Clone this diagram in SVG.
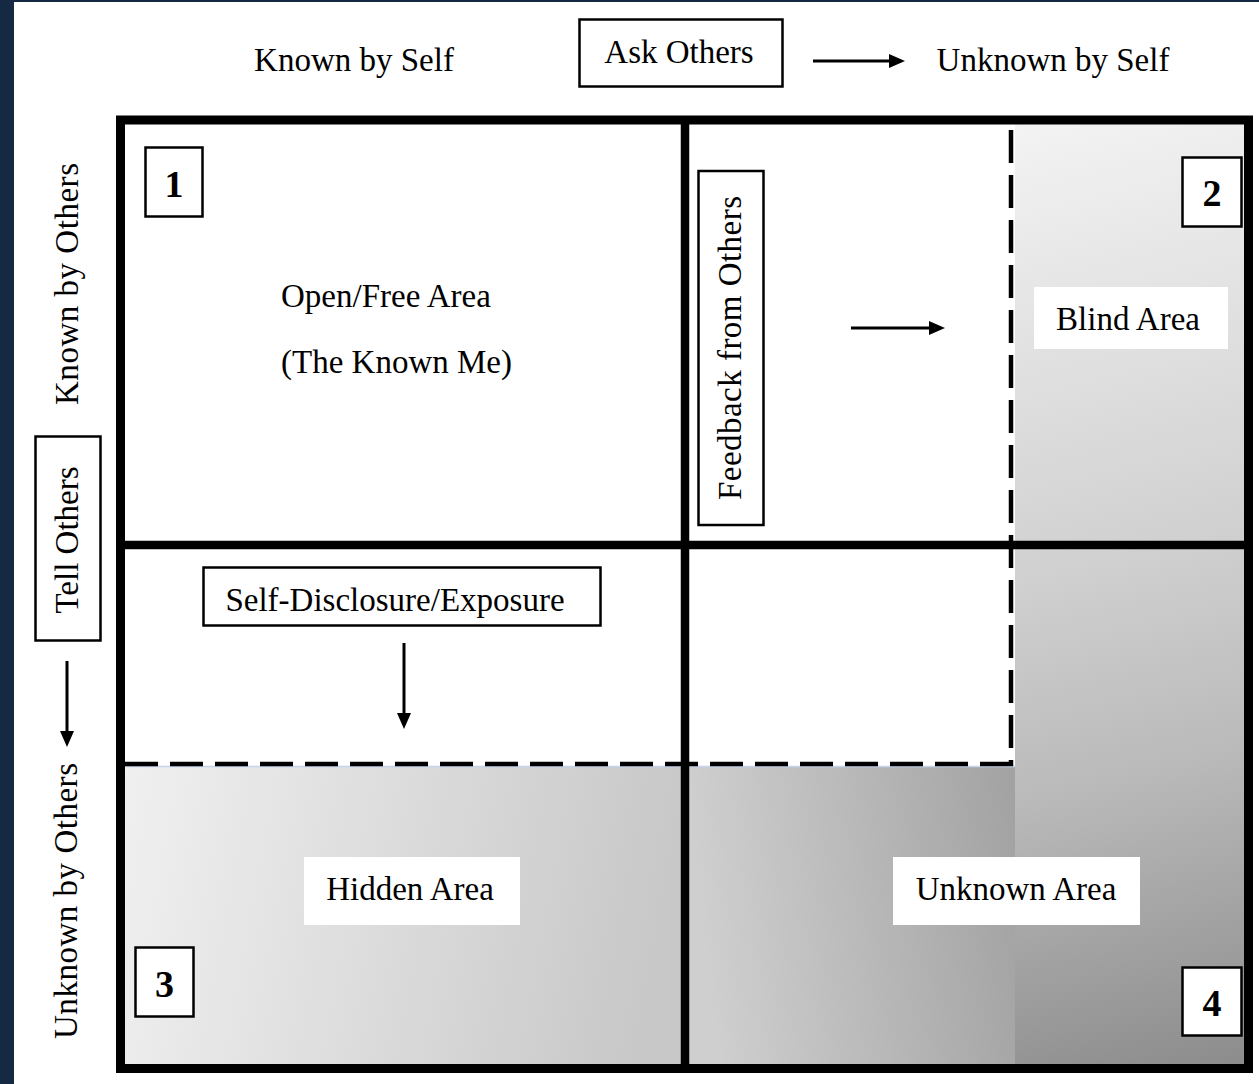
<svg xmlns="http://www.w3.org/2000/svg" width="1259" height="1084" viewBox="0 0 1259 1084">
<defs>
<style>
.t{font-family:"Liberation Serif","Times New Roman",serif;font-size:33px;fill:#000}
.m{text-anchor:middle}
.n{font-family:"Liberation Serif","Times New Roman",serif;font-size:38px;font-weight:bold;text-anchor:middle;fill:#000}
.box{fill:#fff;stroke:#000;stroke-width:2.5}
.lbl{fill:#fff;stroke:none}
.frame{fill:none;stroke:#000;stroke-width:9}
.grid{stroke:#000;stroke-width:8.5;fill:none}
.dash{stroke:#000;stroke-width:4.5;stroke-dasharray:33 12;fill:none}
.arr{stroke:#000;stroke-width:3;fill:none;marker-end:url(#ah)}
</style>
<marker id="ah" markerWidth="16" markerHeight="14" refX="12" refY="7" orient="auto" markerUnits="userSpaceOnUse">
<path d="M0,0 L16,7 L0,14 z" fill="#000"/>
</marker>
<linearGradient id="gRight" gradientUnits="userSpaceOnUse" x1="1015" y1="124" x2="1245" y2="1065">
<stop offset="0" stop-color="#f3f3f3"/>
<stop offset="0.45" stop-color="#d1d1d1"/>
<stop offset="0.68" stop-color="#bababa"/>
<stop offset="1" stop-color="#8c8c8c"/>
</linearGradient>
<linearGradient id="gHidden" x1="0" y1="0" x2="1" y2="0.1">
<stop offset="0" stop-color="#f0f0f0"/>
<stop offset="1" stop-color="#c8c8c8"/>
</linearGradient>
<linearGradient id="gUnknown" x1="0" y1="0.1" x2="1" y2="0">
<stop offset="0" stop-color="#cfcfcf"/>
<stop offset="1" stop-color="#a2a2a2"/>
</linearGradient>
</defs>
<rect x="0" y="0" width="1259" height="1084" fill="#fff"/>
<rect x="0" y="0" width="14" height="1084" fill="#152a42"/>
<rect x="0" y="0" width="1259" height="2" fill="#152a42"/>

<g id="areas">
<rect x="1015" y="124" width="230" height="941" fill="url(#gRight)"/>
<rect x="124" y="766" width="558" height="299" fill="url(#gHidden)"/>
<rect x="688" y="766" width="327" height="299" fill="url(#gUnknown)"/>
<line x1="124" y1="766.5" x2="1015" y2="766.5" stroke="#c6d3ee" stroke-width="1.5"/>
</g>

<g id="grid">
<line class="grid" x1="685" y1="120" x2="685" y2="1068"/>
<line class="grid" x1="120" y1="545" x2="1248" y2="545"/>
<line class="dash" x1="125" y1="764" x2="1013" y2="764"/>
<line class="dash" x1="1011" y1="130" x2="1011" y2="766"/>
<rect class="frame" x="120.5" y="120" width="1128" height="948.5"/>
</g>

<g id="known-by-self"><text class="t m" x="354" y="71">Known by Self</text></g>
<g id="ask-others">
<rect class="box" x="579.5" y="19.5" width="203" height="67"/>
<text class="t m" x="679" y="63">Ask Others</text>
</g>
<g id="unknown-by-self"><text class="t m" x="1053" y="71">Unknown by Self</text></g>

<g id="known-by-others"><text class="t m" transform="translate(78,284) rotate(-90)" textLength="242">Known by Others</text></g>
<g id="tell-others">
<rect class="box" x="35.5" y="436.5" width="65" height="204"/>
<text class="t m" transform="translate(78,540) rotate(-90)">Tell Others</text>
</g>
<g id="unknown-by-others"><text class="t m" transform="translate(77,901) rotate(-90)" textLength="276">Unknown by Others</text></g>

<g id="open-area">
<rect class="box" x="145.5" y="147.5" width="57" height="69"/>
<text class="n" x="174" y="197">1</text>
<text class="t" x="281" y="307">Open/Free Area</text>
<text class="t" x="281" y="373">(The Known Me)</text>
</g>

<g id="feedback">
<rect class="box" x="698.5" y="171" width="65" height="354"/>
<text class="t m" transform="translate(741,348) rotate(-90)" textLength="304">Feedback from Others</text>
</g>

<g id="blind-area">
<rect class="box" x="1182.5" y="157.5" width="59" height="69"/>
<text class="n" x="1212" y="206">2</text>
<rect class="lbl" x="1034" y="287" width="194" height="62"/>
<text class="t m" x="1128" y="330">Blind Area</text>
</g>

<g id="self-disclosure">
<rect class="box" x="203.5" y="567.5" width="397" height="58"/>
<text class="t m" x="395" y="611">Self-Disclosure/Exposure</text>
</g>

<g id="hidden-area">
<rect class="lbl" x="304" y="857" width="216" height="68"/>
<text class="t m" x="410" y="900">Hidden Area</text>
<rect class="box" x="135.5" y="947.5" width="58" height="69"/>
<text class="n" x="164.5" y="997">3</text>
</g>

<g id="unknown-area">
<rect class="lbl" x="893" y="857" width="247" height="68"/>
<text class="t m" x="1016" y="900">Unknown Area</text>
<rect class="box" x="1182.5" y="967.5" width="59" height="68"/>
<text class="n" x="1212" y="1016">4</text>
</g>

<g id="connectors">
<line class="arr" x1="813" y1="61" x2="901" y2="61"/>
<line class="arr" x1="851" y1="328" x2="941" y2="328"/>
<line class="arr" x1="404" y1="643" x2="404" y2="725"/>
<line class="arr" x1="67" y1="661" x2="67" y2="743"/>
</g>
</svg>
